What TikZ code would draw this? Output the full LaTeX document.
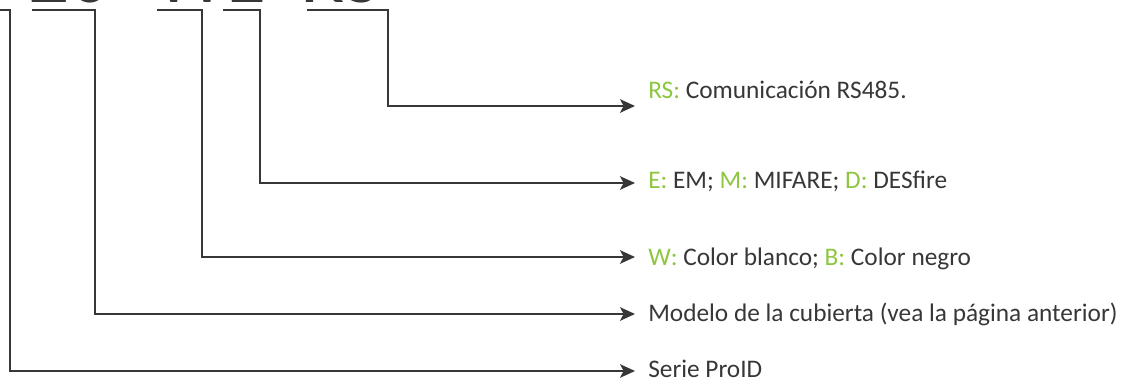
\documentclass[tikz,border=0pt]{standalone}
\usepackage{fontspec}
\setmainfont{Carlito}
\usepackage{xcolor}
\usetikzlibrary{arrows.meta,positioning}
\definecolor{verde}{RGB}{141,198,63}
\definecolor{gris}{RGB}{55,55,55}
\tikzset{
  linea/.style={draw=gris,line width=1.05pt,-{Stealth[length=0.375cm,width=0.34cm,inset=0.09cm]}},
  texto/.style={inner sep=0pt,anchor=base west,text=gris,font=\fontsize{18}{22}\selectfont},
  grande/.style={inner sep=0pt,anchor=base west,text=gris,font=\fontsize{58}{64}\selectfont}
}
\newcommand{\clave}[1]{\textcolor{verde}{#1}}

\begin{document}
\begin{tikzpicture}[x=0.025cm,y=-0.025cm]
\useasboundingbox (0,0) rectangle (1123,381);
\clip (0,0) rectangle (1123,381);
% codigo grande, solo se ve el pie de las letras
\node[grande,anchor=base east] (serie) at (9,3) {ProID};
\node[grande] (num) at (28,3) {20};
\node[grande] (col) at (154,3) {WE};
\node[grande] (tec) at (300,3) {RS};
% corchetes
\coordinate (s1) at (-5,10);  \coordinate (s2) at (10,10);
\coordinate (m1) at (32,10);  \coordinate (m2) at (95,10);
\coordinate (w1) at (157,10); \coordinate (w2) at (202,10);
\coordinate (e1) at (223,10); \coordinate (e2) at (260,10);
\coordinate (r1) at (307,10); \coordinate (r2) at (388,10);
% puntas
\coordinate (sT) at (635,371);
\coordinate (mT) at (635,314);
\coordinate (wT) at (635,257);
\coordinate (eT) at (635,183);
\coordinate (rT) at (635,106);
\draw[linea] (r1) -- (r2) |- (rT);
\draw[linea] (e1) -- (e2) |- (eT);
\draw[linea] (w1) -- (w2) |- (wT);
\draw[linea] (m1) -- (m2) |- (mT);
\draw[linea] (s1) -- (s2) |- (sT);
% textos
\node[texto] (rs) at (648,98) {\clave{RS:} Comunicación RS485.};
\node[texto] (em) at (648,188) {\clave{E:} EM; \clave{M:} MIFARE; \clave{D:} DESfire};
\node[texto] (wb) at (648,265) {\clave{W:} Color blanco; \clave{B:} Color negro};
\node[texto] (mod) at (648,321) {Modelo de la cubierta (vea la página anterior)};
\node[texto] (pro) at (648,377) {Serie ProID};
\end{tikzpicture}
\end{document}
